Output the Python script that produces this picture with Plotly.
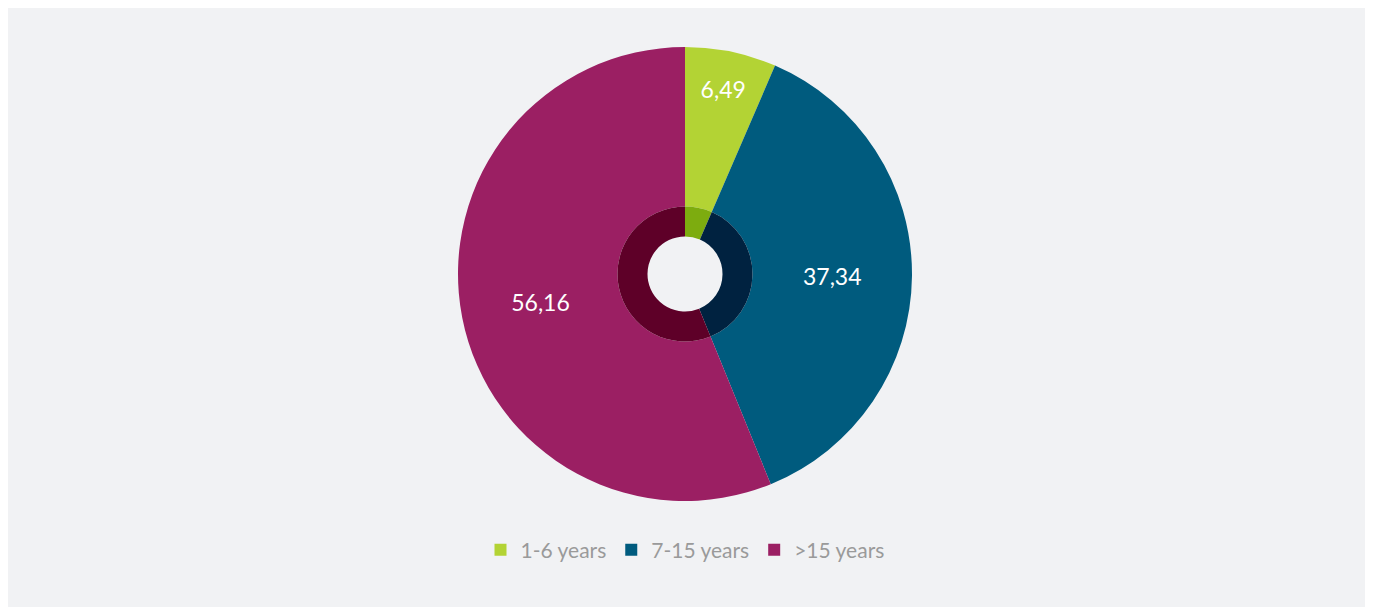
import plotly.graph_objects as go

categories = ["1-6 years", "7-15 years", ">15 years"]
values = [6.49, 37.34, 56.16]
value_labels = ["6,49", "37,34", "56,16"]
outer_colors = ["#b3d334", "#005b7e", "#9b1f63"]
inner_colors = ["#7dac0f", "#002240", "#5e0028"]

W, H = 1357, 599
cx, cy = 677, 266
R_out, R_mid, R_hole = 227, 67.5, 37.5

def dom(r):
    return dict(x=[(cx - r) / W, (cx + r) / W], y=[(H - cy - r) / H, (H - cy + r) / H])

fig = go.Figure()
fig.add_trace(go.Pie(
    labels=categories, values=values, text=value_labels, textinfo="text",
    sort=False, direction="clockwise", rotation=0, hole=R_mid / R_out,
    marker=dict(colors=outer_colors, line=dict(width=0)),
    textfont=dict(color="white", size=23, family="Lato"),
    insidetextorientation="horizontal", textposition="inside",
    domain=dom(R_out), showlegend=True,
))
fig.add_trace(go.Pie(
    labels=categories, values=values, textinfo="none",
    sort=False, direction="clockwise", rotation=0, hole=R_hole / R_mid,
    marker=dict(colors=inner_colors, line=dict(width=0)),
    domain=dom(R_mid), showlegend=False, hoverinfo="skip",
))
fig.update_layout(
    width=W, height=H,
    margin=dict(l=0, r=0, t=0, b=0),
    paper_bgcolor="#f1f2f4", plot_bgcolor="#f1f2f4",
    legend=dict(orientation="h", x=0.4989, xanchor="center", y=57 / H, yanchor="middle",
                font=dict(color="#9a9a9a", size=21, family="Lato"), bgcolor="rgba(0,0,0,0)"),
)
fig.write_html("out.html")
